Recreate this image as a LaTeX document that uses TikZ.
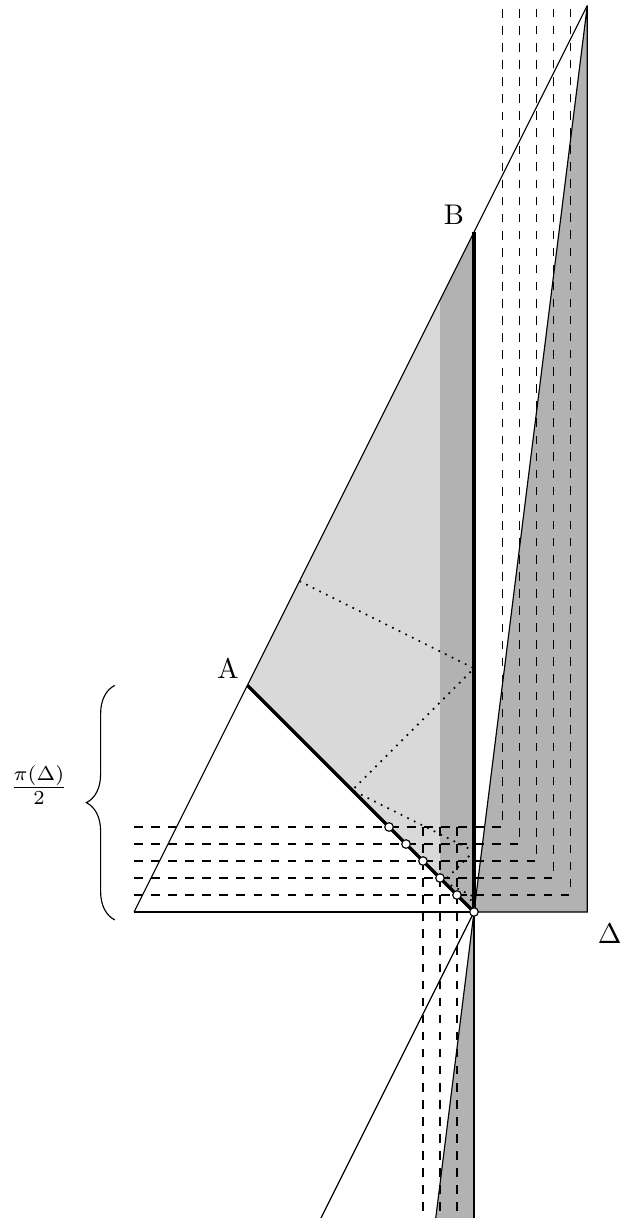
\documentclass[tikz,border=0pt]{standalone}
\usetikzlibrary{decorations.pathreplacing,calc}
\begin{document}
\begin{tikzpicture}[x=1.4cm,y=1.4cm,
  thinline/.style={line width=0.4pt},
  thickline/.style={line width=1.2pt},
  dashline/.style={dashed, line width=0.4pt},
  dotline/.style={dotted, line width=0.6pt},
  lightfill/.style={fill=black!15},
  darkfill/.style={fill=black!30},
  ptmark/.style={circle, draw, fill=white, inner sep=0pt, minimum size=3pt, line width=0.4pt}]
\useasboundingbox (-4.1836,-2.7008) rectangle (1.2974,8.0494);
\clip (-4.1836,-2.7008) rectangle (1.2974,8.0494);
% key points
\coordinate (O) at (0,0);
\coordinate (A) at (-2,2);
\coordinate (B) at (0,6);
\coordinate (C) at (-3,0);
\coordinate (T) at (1,8);
\coordinate (R) at (1,0);
\coordinate (S1) at (-0.3,0.3);
\coordinate (S2) at (-0.3,5.4);
\coordinate (Bot) at (0,-2.75);
\coordinate (Bl) at (-0.34375,-2.75);
\coordinate (Lb) at (-1.375,-2.75);
% fills
\fill[lightfill] (A) -- (B) -- (O) -- cycle;
\fill[darkfill] (S1) -- (S2) -- (B) -- (O) -- cycle;
\filldraw[darkfill, thinline] (O) -- (T) -- (R) -- cycle;
\fill[darkfill] (O) -- (Bl) -- (Bot) -- cycle;
% dashed L lines
\foreach \k in {1,...,5} {
  \coordinate (h\k) at (-3,{0.15*\k});
  \coordinate (c\k) at ({1-0.15*\k},{0.15*\k});
  \coordinate (t\k) at ({1-0.15*\k},8.0);
  \draw[dashline] (h\k) -- (c\k) -- (t\k);
}
% lower vertical dashed lines
\foreach \k in {1,2,3} {
  \coordinate (u\k) at ({-0.15*\k},0.75);
  \coordinate (d\k) at ({-0.15*\k},-2.75);
  \draw[dashline] (u\k) -- (d\k);
}
% dotted zigzag
\coordinate (P0) at (-1.54,2.92);
\coordinate (Q0) at (0,2.15);
\coordinate (R0) at (-1.075,1.075);
\coordinate (Q1) at (0,0.5375);
\coordinate (R1) at (-0.26875,0.26875);
\coordinate (Q2) at (0,0.134375);
\coordinate (R2) at (-0.0671875,0.0671875);
\coordinate (Q3) at (0,0.0335938);
\draw[dotline] (P0) -- (Q0) -- (R0) -- (Q1) -- (R1) -- (Q2) -- (R2) -- (Q3) -- (O);
% thin lines
\draw[thinline] (C) -- (T);
\draw[thinline] (C) -- (O);
\draw[thinline] (O) -- (Lb);
\draw[thinline] (O) -- (Bl);
\draw[thinline] (O) -- (Bot);
% thick lines
\draw[thickline] (A) -- (O);
\draw[thickline] (B) -- (O);
% points
\foreach \k in {1,...,5} {
  \node[ptmark] (m\k) at ({-0.15*\k},{0.15*\k}) {};
}
\node[ptmark] (mO) at (O) {};
% brace and labels
\coordinate (br1) at (-3.17,-0.07);
\coordinate (br2) at (-3.17,2.0);
\draw[thinline, decorate, decoration={brace, amplitude=10pt}] (br1) -- (br2);
\node (frac) at (-3.84,1.12) {$\frac{\pi(\Delta)}{2}$};
\node (la) at (-2.171,2.154) {A};
\node (lb) at (-0.177,6.152) {B};
\node (ld) at (1.198,-0.188) {$\Delta$};
\end{tikzpicture}
\end{document}
